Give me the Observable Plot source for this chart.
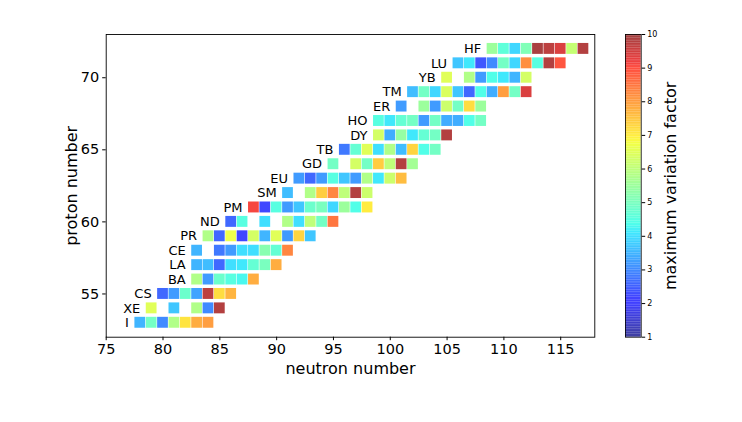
<!DOCTYPE html>
<html>
<head>
<meta charset="utf-8">
<script src="https://cdn.jsdelivr.net/npm/d3@7"></script>
<script src="https://cdn.jsdelivr.net/npm/@observablehq/plot@0.6"></script>
<style>
  html, body { margin: 0; padding: 0; background: white; }
  #chart { position: relative; width: 742px; height: 422px; }
  #chart > svg { position: absolute; top: 0; }
</style>
</head>
<body>
<div id="chart"></div>
<script>
// Element symbols and their proton numbers, one row per element
const elements = ["I", "XE", "CS", "BA", "LA", "CE", "PR", "ND", "PM", "SM",
                  "EU", "GD", "TB", "DY", "HO", "ER", "TM", "YB", "LU", "HF"];
const protonNumbers = [53, 54, 55, 56, 57, 58, 59, 60, 61, 62,
                       63, 64, 65, 66, 67, 68, 69, 70, 71, 72];

// Neutron numbers measured for each element
const neutronNumbers = [
  [78, 79, 80, 81, 82, 83, 84],
  [79, 81, 83, 84, 85],
  [80, 81, 82, 83, 84, 85, 86],
  [83, 84, 85, 86, 87, 88],
  [83, 84, 85, 86, 87, 88, 89, 90],
  [83, 85, 86, 87, 88, 89, 90, 91],
  [84, 85, 86, 87, 88, 89, 90, 91, 92, 93],
  [86, 87, 89, 91, 92, 93, 94, 95],
  [88, 89, 90, 91, 92, 93, 94, 95, 96, 97, 98],
  [91, 93, 94, 95, 96, 97, 98],
  [92, 93, 94, 95, 96, 97, 98, 99, 100, 101],
  [95, 97, 98, 99, 100, 101, 102],
  [96, 97, 98, 99, 100, 101, 102, 103, 104],
  [99, 100, 101, 102, 103, 104, 105],
  [99, 100, 101, 102, 103, 104, 105, 106, 107, 108],
  [101, 103, 104, 105, 106, 107, 108],
  [102, 103, 104, 105, 106, 107, 108, 109, 110, 111, 112],
  [105, 107, 108, 109, 110, 111, 112],
  [106, 107, 108, 109, 110, 111, 112, 113, 114, 115],
  [109, 110, 111, 112, 113, 114, 115, 116, 117]
];

// Maximum variation factor of each nucleus, aligned with neutronNumbers
const variationFactors = [
  [3.5, 4.9, 3.0, 5.8, 7.1, 7.8, 8.0],
  [6.5, 3.7, 5.8, 3.0, 9.8],
  [2.6, 3.2, 4.8, 3.3, 9.7, 7.2, 7.7],
  [5.8, 3.2, 4.8, 4.5, 4.3, 7.8],
  [3.5, 3.6, 2.6, 4.0, 4.1, 4.7, 5.0, 7.8],
  [3.5, 2.8, 3.2, 4.0, 4.0, 5.2, 4.7, 8.3],
  [5.8, 2.6, 6.7, 2.2, 6.3, 3.5, 6.5, 3.2, 7.3, 3.7],
  [2.6, 4.5, 4.0, 5.8, 4.0, 6.0, 4.9, 8.5],
  [9.1, 2.2, 4.5, 3.2, 3.7, 4.8, 5.0, 3.9, 5.5, 4.4, 7.0],
  [3.6, 5.8, 7.4, 8.3, 6.0, 9.8, 6.2],
  [3.2, 2.6, 3.2, 4.5, 3.7, 3.2, 5.8, 4.1, 6.2, 7.6],
  [4.9, 6.3, 4.9, 7.4, 6.0, 9.8, 5.6],
  [2.8, 4.7, 6.5, 4.0, 5.8, 3.6, 7.3, 4.4, 4.9],
  [6.3, 3.4, 5.4, 4.1, 4.7, 4.9, 9.8],
  [4.5, 4.1, 4.7, 4.9, 3.2, 4.9, 3.4, 3.4, 4.4, 4.9],
  [3.2, 5.5, 3.2, 6.2, 4.9, 7.2, 5.5],
  [3.6, 4.9, 3.9, 6.4, 3.7, 2.6, 4.4, 3.4, 8.0, 4.9, 9.4],
  [6.5, 5.8, 3.2, 4.4, 4.1, 3.5, 6.3],
  [3.7, 4.1, 2.4, 3.0, 4.9, 3.9, 8.2, 4.5, 9.8, 8.9],
  [5.5, 4.6, 3.9, 5.1, 9.9, 9.7, 9.4, 6.1, 9.8]
];

// Axis ticks
const xTicks = [75, 80, 85, 90, 95, 100, 105, 110, 115];
const yTicks = [55, 60, 65, 70];
const colorTicks = [1, 2, 3, 4, 5, 6, 7, 8, 9, 10];

// Classic "jet" colormap, piecewise linear per channel
const jetSegments = {
  r: [[0, 0], [0.35, 0], [0.66, 1], [0.89, 1], [1, 0.5]],
  g: [[0, 0], [0.125, 0], [0.375, 1], [0.64, 1], [0.91, 0], [1, 0]],
  b: [[0, 0.5], [0.11, 1], [0.34, 1], [0.65, 0], [1, 0]]
};
function channel(pts, t) {
  t = Math.max(0, Math.min(1, t));
  for (let i = 1; i < pts.length; i++) {
    const [t0, v0] = pts[i - 1], [t1, v1] = pts[i];
    if (t <= t1) return v0 + (v1 - v0) * (t - t0) / (t1 - t0);
  }
  return pts[pts.length - 1][1];
}
function jet(t) {
  const r = Math.round(255 * channel(jetSegments.r, t));
  const g = Math.round(255 * channel(jetSegments.g, t));
  const b = Math.round(255 * channel(jetSegments.b, t));
  return `rgb(${r},${g},${b})`;
}
const colorScale = {type: "linear", domain: [1, 10], interpolate: jet, clamp: true};

// Flatten rows into one table of nuclei
const nuclei = elements.flatMap((el, i) =>
  neutronNumbers[i].map((n, j) => ({element: el, Z: protonNumbers[i], N: n, factor: variationFactors[i][j]}))
);
const rowLabels = elements.map((el, i) => ({element: el, Z: protonNumbers[i], first: d3.min(neutronNumbers[i])}));

const font = "DejaVu Sans, sans-serif";

const main = Plot.plot({
  width: 742,
  height: 422,
  marginLeft: 105.7,
  marginRight: 147.7,
  marginTop: 34,
  marginBottom: 85.3,
  style: {fontFamily: font, fontSize: "14.5px", color: "black", background: "transparent", overflow: "visible"},
  x: {domain: [75, 118], ticks: xTicks, tickSize: 3.5, tickPadding: 3.5, label: null},
  y: {domain: [52, 73], ticks: yTicks, tickSize: 3.5, tickPadding: 3.5, label: null},
  color: colorScale,
  marks: [
    Plot.rect(nuclei, {
      x1: d => d.N - 0.5, x2: d => d.N + 0.5,
      y1: d => d.Z - 0.4, y2: d => d.Z + 0.4,
      fill: "factor", fillOpacity: 0.75, inset: 0.3
    }),
    Plot.text(rowLabels, {
      x: d => d.first - 1, y: "Z", text: "element",
      textAnchor: "end", fontSize: 13, fill: "black"
    }),
    Plot.frame({stroke: "black", strokeWidth: 0.9}),
    Plot.text(["neutron number"], {
      frameAnchor: "bottom", dy: 31.5, textAnchor: "middle", lineAnchor: "middle",
      fontSize: 16, fill: "black"
    }),
    Plot.text(["proton number"], {
      frameAnchor: "left", dx: -34.5, rotate: -90, textAnchor: "middle", lineAnchor: "middle",
      fontSize: 16, fill: "black"
    })
  ]
});

// Vertical colour bar for the variation factor
const steps = d3.range(180);
const colorbar = Plot.plot({
  width: 142,
  height: 422,
  marginLeft: 25,
  marginRight: 101.3,
  marginTop: 34,
  marginBottom: 85.3,
  style: {fontFamily: font, fontSize: "8px", color: "black", background: "transparent", overflow: "visible"},
  x: {domain: [0, 1], axis: null},
  y: {domain: [1, 10], ticks: colorTicks, axis: "right", tickSize: 3.5, tickPadding: 2.5, label: null},
  color: colorScale,
  marks: [
    Plot.rect(steps, {
      x1: 0, x2: 1,
      y1: i => 1 + 9 * i / steps.length,
      y2: i => 1 + 9 * (i + 1) / steps.length,
      fill: i => 1 + 9 * (i + 0.5) / steps.length,
      fillOpacity: 0.75
    }),
    Plot.frame({stroke: "black", strokeWidth: 0.8}),
    Plot.text(["maximum variation factor"], {
      frameAnchor: "right", dx: 30, rotate: -90, textAnchor: "middle", lineAnchor: "middle",
      fontSize: 16, fill: "black"
    })
  ]
});

const chart = document.getElementById("chart");
main.style.left = "0px";
colorbar.style.left = "600px";
chart.append(main, colorbar);
</script>
</body>
</html>
